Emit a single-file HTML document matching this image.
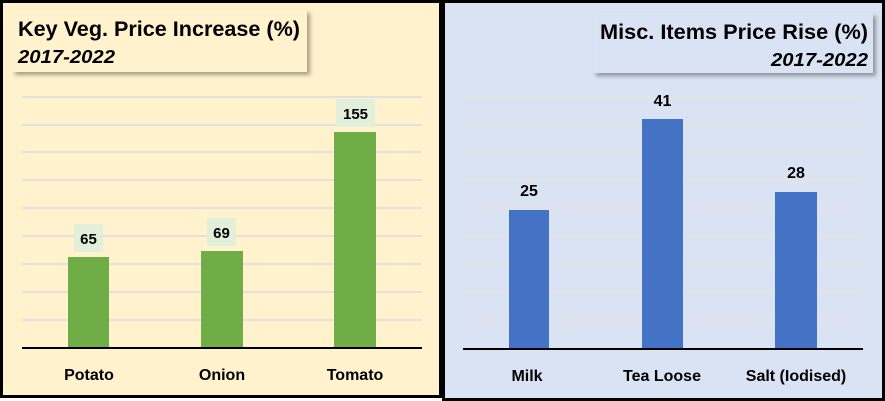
<!DOCTYPE html>
<html><head><meta charset="utf-8"><style>
html,body{margin:0;padding:0;background:#fff;}
svg{display:block;font-family:"Liberation Sans",Arial,sans-serif;}
</style></head><body>
<svg width="885" height="401" viewBox="0 0 885 401" xmlns="http://www.w3.org/2000/svg">
<defs>
<filter id="sh" x="-10%" y="-10%" width="130%" height="140%"><feDropShadow dx="3" dy="3" stdDeviation="2" flood-color="#000" flood-opacity="0.35"/></filter>
</defs>
<!-- left panel -->
<rect x="1.5" y="1.5" width="439" height="395" fill="#fff2cc" stroke="#000" stroke-width="3"/>
<g stroke="#d6dbe6" stroke-width="1.5">
<line x1="22" x2="422" y1="97" y2="97"/><line x1="22" x2="422" y1="125" y2="125"/>
<line x1="22" x2="422" y1="152" y2="152"/><line x1="22" x2="422" y1="180" y2="180"/>
<line x1="22" x2="422" y1="208" y2="208"/><line x1="22" x2="422" y1="236" y2="236"/>
<line x1="22" x2="422" y1="264" y2="264"/><line x1="22" x2="422" y1="292" y2="292"/>
<line x1="22" x2="422" y1="320" y2="320"/>
</g>
<rect x="68" y="257" width="41" height="91" fill="#70ad47"/>
<rect x="201" y="251" width="42" height="97" fill="#70ad47"/>
<rect x="334" y="132" width="42" height="216" fill="#70ad47"/>
<line x1="22" x2="422" y1="348" y2="348" stroke="#000" stroke-width="2"/>
<g fill="#e2efda">
<rect x="74" y="224" width="29" height="28"/><rect x="207" y="218" width="29" height="28"/><rect x="336" y="99" width="39" height="28"/>
</g>
<g font-size="15" font-weight="bold" text-anchor="middle" fill="#000">
<text x="88.5" y="244">65</text><text x="221.5" y="238">69</text><text x="355.5" y="119">155</text>
<text x="89" y="380" font-size="16">Potato</text><text x="222" y="380" font-size="16">Onion</text><text x="355" y="380" font-size="16">Tomato</text>
</g>
<rect x="12" y="10" width="295" height="62" fill="#fff2cc" filter="url(#sh)"/>
<text x="18" y="36" font-size="21" font-weight="bold" textLength="282" lengthAdjust="spacingAndGlyphs">Key Veg. Price Increase (%)</text>
<text x="18" y="63" font-size="18" font-weight="bold" font-style="italic" textLength="97" lengthAdjust="spacingAndGlyphs">2017-2022</text>
<!-- right panel -->
<rect x="443.5" y="1.5" width="440" height="398" fill="#dae3f3" stroke="#000" stroke-width="3"/>
<g stroke="#e8e3d6" stroke-width="1.5">
<line x1="463" x2="863" y1="97" y2="97"/><line x1="463" x2="863" y1="125" y2="125"/>
<line x1="463" x2="863" y1="152" y2="152"/><line x1="463" x2="863" y1="180" y2="180"/>
<line x1="463" x2="863" y1="208" y2="208"/><line x1="463" x2="863" y1="236" y2="236"/>
<line x1="463" x2="863" y1="264" y2="264"/><line x1="463" x2="863" y1="292" y2="292"/>
<line x1="463" x2="863" y1="320" y2="320"/>
</g>
<rect x="509" y="210" width="40" height="139" fill="#4472c4"/>
<rect x="642" y="119" width="41" height="230" fill="#4472c4"/>
<rect x="775" y="192" width="42" height="157" fill="#4472c4"/>
<line x1="463" x2="863" y1="349" y2="349" stroke="#000" stroke-width="2"/>
<g font-size="16" font-weight="bold" text-anchor="middle" fill="#000">
<text x="529" y="196">25</text><text x="662.5" y="106">41</text><text x="796" y="178">28</text>
<text x="527" y="381">Milk</text><text x="662" y="381">Tea Loose</text><text x="796" y="381">Salt (Iodised)</text>
</g>
<rect x="593" y="13" width="280" height="60" fill="#dae3f3" filter="url(#sh)"/>
<text x="600" y="39" font-size="21" font-weight="bold" textLength="268" lengthAdjust="spacingAndGlyphs">Misc. Items Price Rise (%)</text>
<text x="771" y="66" font-size="18" font-weight="bold" font-style="italic" textLength="97" lengthAdjust="spacingAndGlyphs">2017-2022</text>
</svg>
</body></html>
